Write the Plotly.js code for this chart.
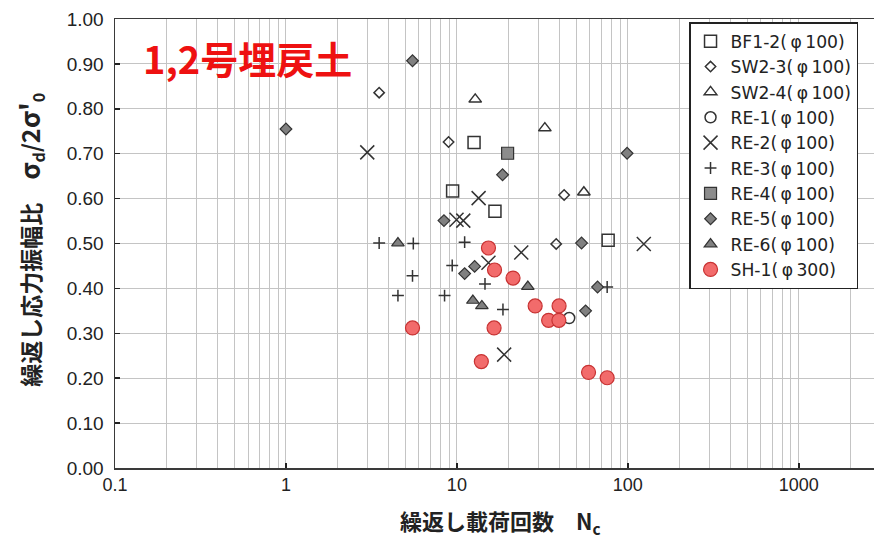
<!DOCTYPE html>
<html><head><meta charset="utf-8">
<script src="https://cdn.plot.ly/plotly-3.0.1.min.js"></script>
<style>body{margin:0;background:#fff}#chart{width:874px;height:541px}</style>
</head><body><div id="chart"></div><script>
// ---- data (N cycles, stress ratio) ----
const names = ["BF1-2(\u2009φ\u2009100)","SW2-3(\u2009φ\u2009100)","SW2-4(\u2009φ\u2009100)","RE-1(\u2009φ\u2009100)","RE-2(\u2009φ\u2009100)","RE-3(\u2009φ\u2009100)","RE-4(\u2009φ\u2009100)","RE-5(\u2009φ\u2009100)","RE-6(\u2009φ\u2009100)","SH-1(\u2009φ\u2009300)"];
const bf12_N = [12.6, 9.44, 16.7, 76.7];
const bf12_R = [0.725, 0.617, 0.572, 0.507];
const sw23_N = [3.51, 8.94, 42.4, 38.1];
const sw23_R = [0.836, 0.726, 0.608, 0.499];
const sw24_N = [12.8, 32.7, 55.3];
const sw24_R = [0.821, 0.757, 0.614];
const re1_N = [45.4];
const re1_R = [0.334];
const re2_N = [2.99, 13.4, 9.95, 10.9, 15.3, 23.8, 124, 18.9];
const re2_R = [0.703, 0.601, 0.553, 0.551, 0.457, 0.480, 0.499, 0.2525];
const re3_N = [3.51, 5.56, 11.1, 9.39, 5.5, 14.6, 75.7, 4.52, 8.47, 18.6];
const re3_R = [0.501, 0.500, 0.503, 0.451, 0.428, 0.410, 0.403, 0.384, 0.384, 0.353];
const re4_N = [19.8];
const re4_R = [0.701];
const re5_N = [1.0, 5.5, 8.4, 18.5, 99, 12.7, 11.1, 53.6, 66.5, 56.6];
const re5_R = [0.755, 0.907, 0.551, 0.653, 0.701, 0.449, 0.433, 0.501, 0.403, 0.350];
const re6_N = [4.52, 12.4, 14.0, 26.0];
const re6_R = [0.501, 0.373, 0.361, 0.404];
const sh1_N = [15.3, 16.6, 21.3, 28.7, 39.6, 34.4, 39.5, 5.5, 16.5, 13.9, 58.9, 75.7];
const sh1_R = [0.490, 0.441, 0.423, 0.361, 0.361, 0.329, 0.329, 0.312, 0.312, 0.237, 0.213, 0.201];
const xTickVals = [0.1, 1, 10, 100, 1000];
const xTickText = ["0.1", "1", "10", "100", "1000"];
const yTickVals = [0, 0.1, 0.2, 0.3, 0.4, 0.5, 0.6, 0.7, 0.8, 0.9, 1.0];

const minorVals = [];
[0.1, 1, 10, 100, 1000].forEach(d => { for (let k = 2; k <= 9; k++) minorVals.push(d * k); });

const dark = '#333333';
function tr(name, x, y, marker) {
  return {type: 'scatter', mode: 'markers', name: name, x: x, y: y, marker: marker, cliponaxis: false};
}
const data = [
  tr(names[0], bf12_N, bf12_R, {symbol: 'square-open', size: 12, color: dark, line: {width: 1.5}}),
  tr(names[1], sw23_N, sw23_R, {symbol: 'diamond-open', size: 8, color: dark, line: {width: 1.5}}),
  tr(names[2], sw24_N, sw24_R, {symbol: 'triangle-up-open', size: 11, color: dark, line: {width: 1.5}}),
  tr(names[3], re1_N, re1_R, {symbol: 'circle-open', size: 11, color: dark, line: {width: 1.5}}),
  tr(names[4], re2_N, re2_R, {symbol: 'x-thin', size: 14, color: dark, line: {width: 1.5, color: dark}}),
  tr(names[5], re3_N, re3_R, {symbol: 'cross-thin', size: 8.5, color: dark, line: {width: 1.5, color: dark}}),
  tr(names[6], re4_N, re4_R, {symbol: 'square', size: 12, color: '#8c8c8c', line: {width: 1.2, color: dark}}),
  tr(names[7], re5_N, re5_R, {symbol: 'diamond', size: 9, color: '#808080', line: {width: 1.2, color: dark}}),
  tr(names[8], re6_N, re6_R, {symbol: 'triangle-up', size: 11, color: '#808080', line: {width: 1.2, color: dark}}),
  tr(names[9], sh1_N, sh1_R, {symbol: 'circle', size: 14, color: '#f26b6b', line: {width: 1.2, color: '#c83232'}})
];

const grid = '#c4c4c4';
const layout = {
  width: 874, height: 541,
  margin: {l: 115, r: 0, t: 19, b: 72.5},
  paper_bgcolor: '#ffffff', plot_bgcolor: '#ffffff',
  showlegend: true,
  font: {family: 'Liberation Sans, Arial, sans-serif', color: '#222'},
  xaxis: {
    type: 'log', range: [-1, 3.44],
    tickmode: 'array', tickvals: xTickVals, ticktext: xTickText,
    ticks: 'inside', ticklen: 5, tickcolor: '#222', tickwidth: 1.5,
    showgrid: true, gridcolor: grid, gridwidth: 1,
    minor: {tickmode: 'array', tickvals: minorVals, showgrid: true, gridcolor: grid, gridwidth: 1, ticks: ''},
    showline: true, linecolor: '#3a3a3a', linewidth: 1.5, mirror: true,
    zeroline: false,
    tickfont: {size: 18, family: 'Liberation Sans, Arial, sans-serif', color: '#222'}
  },
  yaxis: {
    range: [0, 1.0],
    tickmode: 'array', tickvals: yTickVals, tickformat: '.2f',
    ticks: 'inside', ticklen: 5, tickcolor: '#222', tickwidth: 1.5,
    ticklabelstandoff: 6,
    showgrid: true, gridcolor: grid, gridwidth: 1,
    showline: true, linecolor: '#3a3a3a', linewidth: 1.5, mirror: true,
    zeroline: false,
    tickfont: {size: 19, family: 'Liberation Sans, Arial, sans-serif', color: '#222'}
  },
  legend: {
    x: 0.7563, y: 0.9933, xanchor: 'left', yanchor: 'top',
    bgcolor: '#ffffff', bordercolor: '#222', borderwidth: 1.5,
    font: {family: 'DejaVu Sans, sans-serif', size: 17.2, color: '#222'},
    itemwidth: 30, tracegroupgap: 0
  },
  annotations: [
    {text: '<b>1,2号埋戻土</b>', xref: 'paper', yref: 'paper', x: (247 - 115) / 759, y: (468.5 - 58) / 449.5,
     xanchor: 'center', yanchor: 'middle', showarrow: false,
     font: {family: 'Noto Sans CJK JP, sans-serif', size: 38, color: '#ee1111'}},
    {text: "<b>繰返し応力振幅比　<span style='font-size:27px'>σ</span><sub>d</sub>/<span style='font-size:25px'>2</span><span style='font-size:27px'>σ'</span><sub>0</sub></b>", xref: 'paper', yref: 'paper',
     x: (30 - 115) / 759, y: (468.5 - 240) / 449.5, xanchor: 'center', yanchor: 'middle', textangle: -90,
     showarrow: false, font: {family: 'Noto Sans CJK JP, sans-serif', size: 23, color: '#222'}},
    {text: '<b>繰返し載荷回数　N<sub>c</sub></b>', xref: 'paper', yref: 'paper',
     x: (500 - 115) / 759, y: (468.5 - 522) / 449.5, xanchor: 'center', yanchor: 'middle',
     showarrow: false, font: {family: 'Noto Sans CJK JP, sans-serif', size: 22, color: '#222'}}
  ]
};
Plotly.newPlot('chart', data, layout, {staticPlot: true});
</script></body></html>
